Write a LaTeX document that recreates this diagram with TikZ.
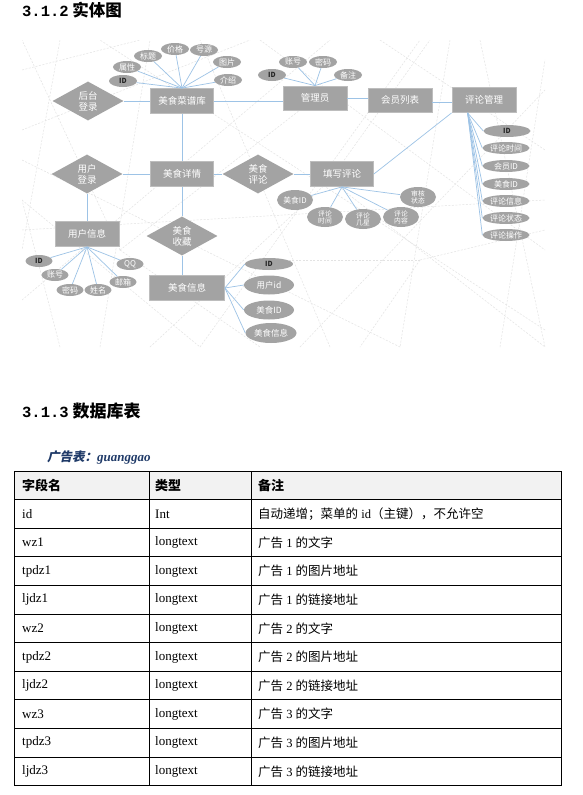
\documentclass[tikz,border=0pt]{standalone}
\usepackage{fontspec}
\setmainfont{Liberation Serif}
\newfontfamily\cjk{Noto Sans CJK SC}
\newfontfamily\cjkit{Noto Sans CJK SC}[FakeSlant=0.22]
\newfontfamily\monob{Liberation Mono}
\usetikzlibrary{shapes.geometric,calc}
\definecolor{shapegray}{HTML}{A3A3A3}
\definecolor{shapeedge}{HTML}{BDBDBD}
\definecolor{edgeblue}{HTML}{9DC3E6}
\definecolor{bgline}{HTML}{E3E3E3}
\definecolor{navy}{HTML}{1F3A68}
\definecolor{headfill}{HTML}{F2F2F2}
\newcommand{\zh}[1]{{\cjk #1}}
\begin{document}
\begin{tikzpicture}[x=1pt,y=-1pt,
  ent/.style={rectangle, fill=shapegray, draw=shapeedge, line width=0.8pt, minimum width=63pt, minimum height=25pt, inner sep=0pt, text=white, font=\cjk\fontsize{9.5}{11}\selectfont},
  rel/.style={diamond, fill=shapegray, minimum width=71pt, minimum height=39pt, inner sep=0pt, text=white, align=center, font=\cjk\fontsize{9.5}{11}\selectfont},
  attr/.style={ellipse, fill=shapegray, inner sep=0pt, text=white, font=\cjk\fontsize{8}{9}\selectfont},
  sa/.style={attr, minimum width=28pt, minimum height=12pt},
  la/.style={attr, minimum width=47pt, minimum height=12pt, font=\cjk\fontsize{8}{9}\selectfont},
  ma/.style={attr, minimum width=50pt, minimum height=19pt, font=\cjk\fontsize{8.5}{9}\selectfont},
  ta/.style={attr, minimum width=36pt, minimum height=20pt, align=center, font=\cjk\fontsize{6.8}{7}\selectfont},
  idt/.style={text=black!85, font=\cjk\bfseries\fontsize{7}{8}\selectfont},
  link/.style={draw=edgeblue, line width=0.7pt},
  bgnet/.style={draw=bgline, line width=0.5pt, dash pattern=on 2pt off 1.5pt},
  cell/.style={anchor=west, inner sep=0pt, font=\fontsize{13}{15}\selectfont},
  rule/.style={draw=black, line width=0.9pt}
]
\useasboundingbox (0,0) rectangle (582,795);
\fill[white] (0,0) rectangle (582,795);

% ---------- headings ----------
\node[anchor=west, inner sep=0pt] (h1) at (22,10)
  {{\monob\bfseries\fontsize{15.5}{16}\selectfont 3.1.2}{\cjk\bfseries\fontsize{16.5}{17}\selectfont\ 实体图}};

% ---------- background network ----------
\begin{scope}
  \clip (22,40) rectangle (545,347);
  \foreach \p/\q in {
    {22,70}/{140,40}, {22,130}/{250,40}, {60,40}/{22,250}, {22,200}/{200,347},
    {22,300}/{330,40}, {100,347}/{150,40}, {200,347}/{420,40}, {260,40}/{545,250},
    {300,347}/{545,90}, {380,40}/{545,150}, {22,230}/{545,200},
    {450,40}/{400,347}, {500,347}/{545,60}, {330,347}/{200,40},
    {22,160}/{400,347}, {545,330}/{100,40}, {480,40}/{545,347},
    {60,347}/{22,200}, {150,347}/{330,180}, {330,180}/{545,347}, {330,180}/{430,40},
    {120,250}/{22,40}, {120,250}/{260,347}, {120,250}/{300,110}, {420,260}/{545,230},
    {420,260}/{360,347}, {420,260}/{250,260}}
    \draw[bgnet] (\p) -- (\q);
\end{scope}

% ---------- entities and relations ----------
\node[ent] (mcp)  at (182,101) {美食菜谱库};
\node[rel] (htdl) at (88,101)  {后台\\登录};
\node[ent, minimum width=64pt, minimum height=24pt] (gly)  at (315,98)  {管理员};
\node[ent, minimum width=64pt, minimum height=24pt] (hylb) at (400,100) {会员列表};
\node[ent, minimum width=64pt] (plgl) at (484,100) {评论管理};
\node[ent] (msxq) at (182,174) {美食详情};
\node[rel] (yhdl) at (87,174)  {用户\\登录};
\node[rel] (mspl) at (258,174) {美食\\评论};
\node[ent] (txpl) at (342,174) {填写评论};
\node[ent, minimum width=64pt] (yhxx) at (87,234) {用户信息};
\node[rel] (mssc) at (182,236) {美食\\收藏};
\node[ent, minimum width=75pt] (msxx) at (187,288) {美食信息};

% ---------- attributes ----------
% 美食菜谱库
\node[sa, idt] (a1) at (123,81) {ID};
\node[sa] (a2) at (127,67) {属性};
\node[sa] (a3) at (148,56) {标题};
\node[sa] (a4) at (175,49) {价格};
\node[sa] (a5) at (204,50) {号源};
\node[sa] (a6) at (227,62) {图片};
\node[sa] (a7) at (228,80) {介绍};
% 管理员
\node[sa, idt] (g1) at (272,75) {ID};
\node[sa] (g2) at (293,62) {账号};
\node[sa] (g3) at (323,62) {密码};
\node[sa] (g4) at (348,75) {备注};
% 评论管理
\node[la, idt] (p1) at (507,131) {ID};
\node[la] (p2) at (506,148) {评论时间};
\node[la] (p3) at (506,166) {会员ID};
\node[la] (p4) at (506,184) {美食ID};
\node[la] (p5) at (506,201) {评论信息};
\node[la] (p6) at (506,218) {评论状态};
\node[la] (p7) at (506,235) {评论操作};
% 用户信息
\node[sa, minimum width=27pt, idt] (u1) at (39,261) {ID};
\node[sa, minimum width=27pt] (u2) at (55,275) {账号};
\node[sa, minimum width=27pt] (u3) at (70,290) {密码};
\node[sa, minimum width=27pt] (u4) at (98,290) {姓名};
\node[sa, minimum width=27pt] (u5) at (123,282) {邮箱};
\node[sa, minimum width=27pt] (u6) at (130,264) {QQ};
% 美食信息
\node[ma, minimum height=12pt, minimum width=48pt, idt] (m1) at (269,264) {ID};
\node[ma] (m2) at (269,285) {用户id};
\node[ma] (m3) at (269,310) {美食ID};
\node[ma, minimum width=51pt, minimum height=20pt] (m4) at (271,333) {美食信息};
% 填写评论
\node[ta, font=\cjk\fontsize{7.8}{8}\selectfont] (t1) at (295,200) {美食ID};
\node[ta] (t2) at (325,217) {评论\\时间};
\node[ta] (t3) at (363,219) {评论\\几星};
\node[ta] (t4) at (401,217) {评论\\内容};
\node[ta] (t5) at (418,197) {审核\\状态};

% ---------- connectors ----------
\draw[link] (htdl) -- (mcp);
\draw[link] (mcp.east) -- (mcp.east -| gly.west);
\draw[link] (gly.east) -- (gly.east -| hylb.west);
\draw[link] ($(hylb.east)+(0,2)$) -- ($(hylb.east -| plgl.west)+(0,2)$);
\draw[link] (mcp) -- (msxq);
\draw[link] (yhdl) -- (msxq);
\draw[link] (msxq) -- (mspl);
\draw[link] (mspl) -- (txpl);
\draw[link] (txpl.east) -- (plgl.south west);
\draw[link] (yhdl) -- (yhxx);
\draw[link] (msxq) -- (mssc);
\draw[link] (mssc.south) -- (mssc.south |- msxx.north);

\foreach \n in {a1,a2,a3,a4,a5,a6,a7} \draw[link] (mcp.north) -- (\n);
\foreach \n in {g1,g2,g3,g4} \draw[link] (gly.north) -- (\n);
\coordinate (plsrc) at ($(plgl.south west)+(16,0)$);
\foreach \n in {p1,p2,p3,p4,p5,p6,p7} \draw[link] (plsrc) -- (\n.west);
\foreach \n in {u1,u2,u3,u4,u5,u6} \draw[link] (yhxx.south) -- (\n);
\foreach \n in {m1,m2,m3,m4} \draw[link] (msxx.east) -- (\n.west);
\foreach \n in {t1,t2,t3,t4,t5} \draw[link] (txpl.south) -- (\n);

% ---------- section 3.1.3 ----------
\node[anchor=west, inner sep=0pt] (h2) at (22,411)
  {{\monob\bfseries\fontsize{15.5}{16}\selectfont 3.1.3}{\cjk\bfseries\fontsize{17}{17}\selectfont\ 数据库表}};
\node[anchor=west, inner sep=0pt, text=navy] (tname) at (47,457)
  {{\cjkit\bfseries\fontsize{12.5}{14}\selectfont 广告表：}{\bfseries\itshape\fontsize{13}{14}\selectfont guanggao}};

% table
\fill[headfill] (14,471) rectangle (561.5,499.6);
\foreach \k in {0,...,11} \draw[rule] (14,471+\k*28.6) -- (561.5,471+\k*28.6);
\foreach \xx in {14,149,251,561.5} \draw[rule] (\xx,471) -- (\xx,785.6);

\node[cell, font=\cjk\bfseries\fontsize{13}{15}\selectfont] (c1-0) at (22,485.3) {字段名};
\node[cell, font=\cjk\bfseries\fontsize{13}{15}\selectfont] (c2-0) at (155,485.3) {类型};
\node[cell, font=\cjk\bfseries\fontsize{13}{15}\selectfont] (c3-0) at (258,485.3) {备注};

\foreach \k/\a/\b/\c in {
  1/id/Int/{\zh{自动递增；菜单的} id\zh{（主键），不允许空}},
  2/wz1/longtext/{\zh{广告} 1 \zh{的文字}},
  3/tpdz1/longtext/{\zh{广告} 1 \zh{的图片地址}},
  4/ljdz1/longtext/{\zh{广告} 1 \zh{的链接地址}},
  5/wz2/longtext/{\zh{广告} 2 \zh{的文字}},
  6/tpdz2/longtext/{\zh{广告} 2 \zh{的图片地址}},
  7/ljdz2/longtext/{\zh{广告} 2 \zh{的链接地址}},
  8/wz3/longtext/{\zh{广告} 3 \zh{的文字}},
  9/tpdz3/longtext/{\zh{广告} 3 \zh{的图片地址}},
  10/ljdz3/longtext/{\zh{广告} 3 \zh{的链接地址}}}
{
  \node[cell] (c1-\k) at (22,485.3+\k*28.6) {\a};
  \node[cell] (c2-\k) at (155,485.3+\k*28.6) {\b};
  \node[cell, font=\fontsize{12.5}{15}\selectfont] (c3-\k) at (258,485.3+\k*28.6) {\c};
}
\end{tikzpicture}
\end{document}
